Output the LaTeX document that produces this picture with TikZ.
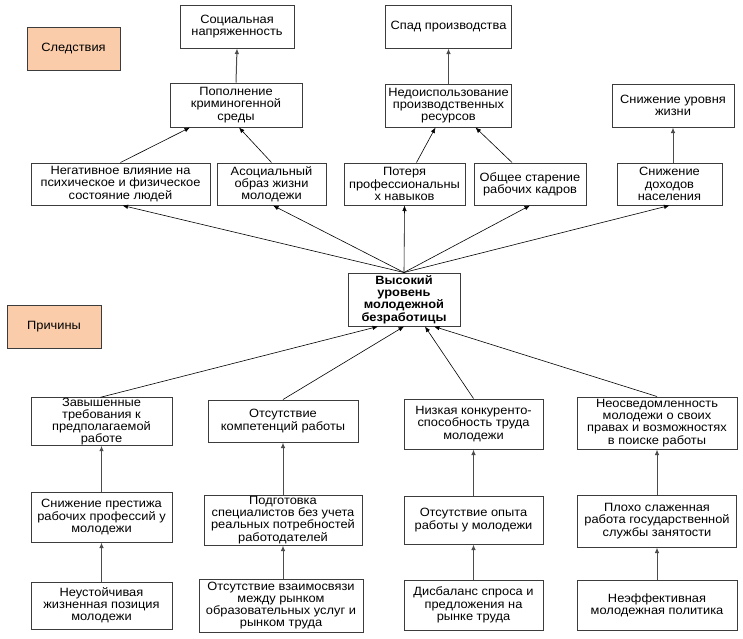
\documentclass[tikz,border=0pt]{standalone}
\usepackage{fontspec}
\setmainfont{Liberation Sans}[FakeStretch=1.07]
\usetikzlibrary{arrows.meta,calc}
\definecolor{salmon}{RGB}{250,204,170}
\definecolor{boxline}{RGB}{60,60,60}
\tikzset{
  box/.style={draw=boxline, line width=1pt, fill=white, align=center, inner sep=0pt,
    font=\fontsize{12}{12.2}\selectfont},
  labelbox/.style={box, fill=salmon},
  arr/.style={-{Latex[length=5.5pt,width=4.5pt]}, line width=0.6pt, black},
  varr/.style={-{Latex[length=5.5pt,width=4.5pt]}, line width=1pt, black!70},
}
\newcommand{\bx}[6]{\node[#1, minimum width=#4pt, minimum height=#5pt] (#2) at (#3) {#6};}
\begin{document}
\begin{tikzpicture}[x=1pt,y=-1pt]
\useasboundingbox[fill=white] (0,0) rectangle (743,638);
% labels
\bx{labelbox}{sled}{73.5,48.5}{93}{43}{Следствия}
\bx{labelbox}{prich}{54,326.5}{94}{43}{Причины}
% consequences
\bx{box}{soc}{237,26.5}{114}{43}{Социальная\\напряженность}
\bx{box}{spad}{448.5,26.5}{126}{43}{Спад производства}
\bx{box}{pop}{236,105}{132}{44}{Пополнение\\криминогенной\\среды}
\bx{box}{nedo}{448.5,105.5}{126}{43}{Недоиспользование\\производственных\\ресурсов}
\bx{box}{urov}{673,105.5}{122}{43}{Снижение уровня\\жизни}
\bx{box}{neg}{120.5,184}{179}{42}{Негативное влияние на\\психическое и физическое\\состояние людей}
\bx{box}{asoc}{271.5,184}{109}{42}{Асоциальный\\образ жизни\\молодежи}
\bx{box}{poter}{404.5,184}{121}{42}{Потеря\\профессиональны\\х навыков}
\bx{box}{obsh}{530,184}{112}{42}{Общее старение\\рабочих кадров}
\bx{box}{dohod}{669.5,184}{105}{42}{Снижение\\доходов\\населения}
% center
\bx{box}{center}{404,299.5}{112}{53}{\bfseries Высокий\\\bfseries уровень\\\bfseries молодежной\\\bfseries безработицы}
% causes
\bx{box}{zav}{101.5,421.5}{141}{47}{Завышенные\\требования к\\предполагаемой\\работе}
\bx{box}{komp}{283,421}{150}{42}{Отсутствие\\компетенций работы}
\bx{box}{niz}{473.5,424}{139}{50}{Низкая конкуренто-\\способность труда\\молодежи}
\bx{box}{neosv}{657,423}{160}{52}{Неосведомленность\\молодежи о своих\\правах и возможностях\\в поиске работы}
\bx{box}{snizpr}{101.5,517}{141}{50}{Снижение престижа\\рабочих профессий у\\молодежи}
\bx{box}{podg}{283,520}{158}{50}{Подготовка\\специалистов без учета\\реальных потребностей\\работодателей}
\bx{box}{opyt}{473.5,520}{139}{48}{Отсутствие опыта\\работы у молодежи}
\bx{box}{ploho}{657,521}{159}{52}{Плохо слаженная\\работа государственной\\службы занятости}
\bx{box}{neust}{101.5,605.5}{141}{47}{Неустойчивая\\жизненная позиция\\молодежи}
\bx{box}{vzaim}{281,605.5}{164}{53}{Отсутствие взаимосвязи\\между рынком\\образовательных услуг и\\рынком труда}
\bx{box}{disb}{473.5,605}{139}{50}{Дисбаланс спроса и\\предложения на\\рынке труда}
\bx{box}{neeff}{657,605}{160}{50}{Неэффективная\\молодежная политика}
% arrows: center -> consequences
\draw[arr] (center.north) -- ($(neg.south)+(2,0)$);
\draw[arr] (center.north) -- ($(asoc.south)+(1.5,0)$);
\draw[arr] (center.north) -- (poter.south);
\draw[arr] (center.north) -- (obsh.south);
\draw[arr] (center.north) -- (dohod.south);
% second level
\draw[arr] (neg.north) -- ($(pop.south)+(-46,0)$);
\draw[arr] (asoc.north) -- ($(pop.south)+(3,0)$);
\draw[arr] ($(poter.north)+(12,0)$) -- ($(nedo.south)+(-13,0)$);
\draw[arr] ($(obsh.north)+(-18,0)$) -- ($(nedo.south)+(27,0)$);
\draw[varr] (dohod.north -| urov.south) -- (urov.south);
\draw[varr] (pop.north) -- (soc.south);
\draw[varr] (nedo.north) -- (spad.south);
% causes -> center
\draw[arr] ($(zav.north)+(-1,0)$) -- ($(center.south)+(-26,0)$);
\draw[arr] (komp.north) -- ($(center.south)+(0,0)$);
\draw[arr] (niz.north) -- ($(center.south)+(21,0)$);
\draw[arr] (neosv.north) -- ($(center.south)+(30,0)$);
% vertical chains
\draw[varr] (neust.north) -- (snizpr.south);
\draw[varr] (snizpr.north) -- (zav.south);
\draw[varr] (vzaim.north -| podg.south) -- (podg.south);
\draw[varr] (podg.north) -- (komp.south);
\draw[varr] (disb.north) -- (opyt.south);
\draw[varr] (opyt.north) -- (niz.south);
\draw[varr] (neeff.north) -- (ploho.south);
\draw[varr] (ploho.north) -- (neosv.south);
\end{tikzpicture}
\end{document}
